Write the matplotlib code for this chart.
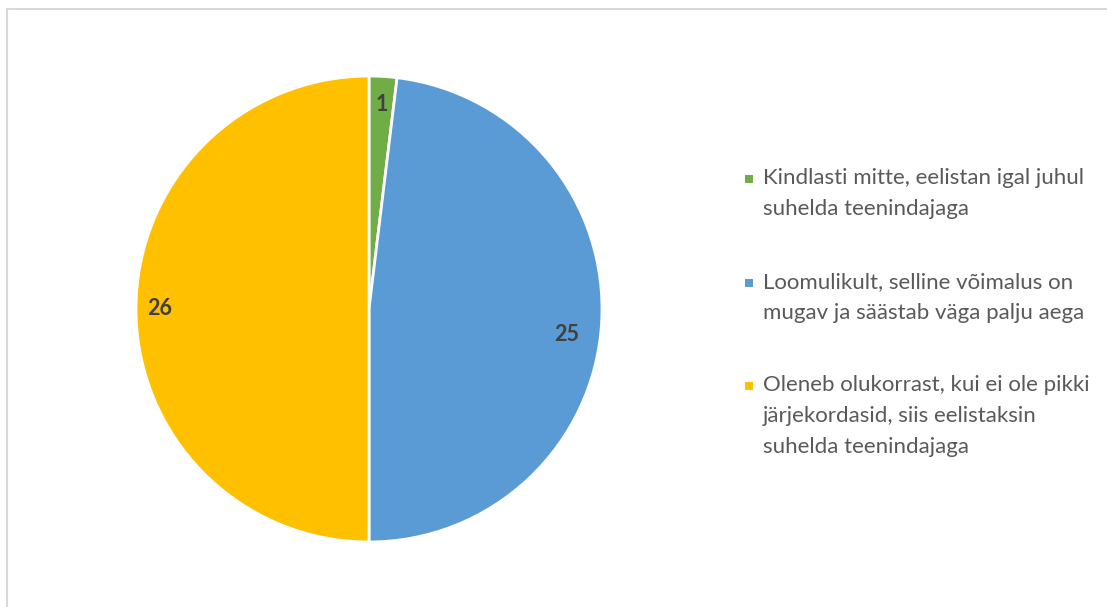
import matplotlib
matplotlib.use("Agg")
import numpy as np
import matplotlib.pyplot as plt
from matplotlib.patches import Rectangle

# survey answers and counts
answers = [
    "Kindlasti mitte, eelistan igal juhul\nsuhelda teenindajaga",
    "Loomulikult, selline võimalus on\nmugav ja säästab väga palju aega",
    "Oleneb olukorrast, kui ei ole pikki\njärjekordasid, siis eelistaksin\nsuhelda teenindajaga",
]
counts = [1, 25, 26]
colors = ["#70AD47", "#5B9BD5", "#FFC000"]

plt.rcParams["font.family"] = ["Lato", "DejaVu Sans"]

W, H = 1107, 607
fig = plt.figure(figsize=(W / 100, H / 100), dpi=100)

# pie area: centre (369, 309) px, radius 233 px
cx, cy, r = 369, 309, 233
ax = fig.add_axes([(cx - r) / W, (H - cy - r) / H, 2 * r / W, 2 * r / H])
wedges, _, autotexts = ax.pie(
    counts,
    colors=colors,
    startangle=90,
    counterclock=False,
    autopct=lambda p: f"{round(p * sum(counts) / 100):d}",
    pctdistance=0.88,
    wedgeprops=dict(edgecolor="white", linewidth=2),
    textprops=dict(color="#404040", fontsize=15.5, fontweight="bold"),
)
# nudge the big-slice labels the way the spreadsheet places them
for w, t, ang_shift, dist in zip(wedges, autotexts, [0, -4, 0], [0.88, 0.855, 0.90]):
    mid = np.deg2rad((w.theta1 + w.theta2) / 2 + ang_shift)
    t.set_position((dist * np.cos(mid), dist * np.sin(mid)))
ax.set_xlim(-1, 1)
ax.set_ylim(-1, 1)
ax.set_aspect("equal")

# chart border (runs off the right and bottom edges)
fig.patches.append(Rectangle((6.5 / W, -0.05), 1.1, 1 - 8.5 / H + 0.05,
                             transform=fig.transFigure, fill=False,
                             edgecolor="#D9D9D9", linewidth=1.5))

# legend drawn by hand: square marker beside the first line
first_baselines = [184, 288, 391]
line_step = 31
for label, col, y0 in zip(answers, colors, first_baselines):
    fig.patches.append(Rectangle((745 / W, 1 - (y0 - 1) / H), 8 / W, 8 / H,
                                 transform=fig.transFigure, facecolor=col,
                                 edgecolor="none"))
    for i, line in enumerate(label.split("\n")):
        fig.text(763 / W, 1 - (y0 + i * line_step) / H, line,
                 fontsize=16, color="#595959", va="baseline", ha="left")

fig.savefig("out.png", dpi=100, facecolor="white")
